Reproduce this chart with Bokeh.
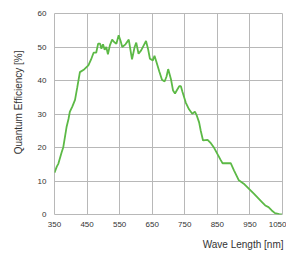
from bokeh.plotting import figure
from bokeh.models import Range1d, FixedTicker, Title, ColumnDataSource
from bokeh.embed import file_html
from bokeh.resources import INLINE

wavelength = [350, 357, 362, 372, 377, 387, 393, 397, 405, 413, 420, 428, 441, 454, 462,
              470, 478, 484, 490, 494, 499, 504, 509, 514, 520, 527, 533, 540, 547, 553,
              558, 568, 578, 588, 596, 601, 608, 616, 624, 631, 637, 643, 652, 657, 663,
              672, 680, 688, 694, 699, 708, 714, 720, 727, 733, 738, 743, 753, 763, 773,
              781, 787, 794, 799, 806, 820, 830, 840, 850, 860, 866, 891, 901, 916, 931,
              962, 987, 997, 1007, 1017, 1027, 1040, 1048]
efficiency = [12.5, 14.3, 15.2, 18.6, 20.1, 26.1, 28.5, 30.6, 32.3, 34.2, 38.0, 42.5, 43.3, 44.5, 46.2,
              48.3, 48.3, 51.0, 51.0, 49.5, 50.8, 49.2, 50.0, 47.8, 50.5, 52.2, 51.5, 51.0, 53.5, 51.8,
              50.0, 50.8, 52.2, 46.3, 50.0, 51.3, 48.0, 49.0, 50.5, 51.8, 49.5, 46.5, 46.0, 47.4, 45.5,
              42.6, 40.2, 39.7, 41.2, 43.4, 40.2, 37.0, 36.1, 37.3, 38.3, 38.3, 36.6, 33.4, 31.4, 30.1,
              30.7, 29.5, 27.5, 25.0, 22.1, 22.3, 21.3, 19.9, 18.1, 16.3, 15.3, 15.3, 13.2, 10.2, 9.2,
              6.2, 3.7, 2.7, 2.2, 1.2, 0.4, 0.1, 0.0]
x_ticks = [350, 450, 550, 650, 750, 850, 950, 1050]
y_ticks = [0, 10, 20, 30, 40, 50, 60]
x_title = "Wave Length [nm]"
y_title = "Quantum Efficiency [%]"

FONT = "Liberation Sans"
TXT = "#333333"
GRID = "#b8b8b8"

p = figure(width=286, height=256, output_backend="svg", toolbar_location=None,
           x_range=Range1d(350, 1050), y_range=Range1d(0, 60),
           min_border_left=53, min_border_right=4, min_border_top=13, min_border_bottom=42)
p.background_fill_color = "white"
p.border_fill_color = "white"
p.outline_line_color = GRID

p.xaxis.ticker = FixedTicker(ticks=x_ticks)
p.yaxis.ticker = FixedTicker(ticks=y_ticks)
for ax in (p.xaxis, p.yaxis):
    ax.axis_line_color = None
    ax.major_tick_line_color = None
    ax.minor_tick_line_color = None
    ax.major_tick_out = 0
    ax.major_tick_in = 0
    ax.major_label_text_font = FONT
    ax.major_label_text_font_size = "8px"
    ax.major_label_text_color = TXT
p.xaxis.major_label_standoff = 7
p.yaxis.major_label_standoff = 8

p.xgrid.grid_line_color = GRID
p.ygrid.grid_line_color = GRID
p.xgrid.grid_line_width = 1
p.ygrid.grid_line_width = 1

src = ColumnDataSource(dict(x=wavelength, y=efficiency))
p.line("x", "y", source=src, line_color="#5cb946", line_width=1.8)

p.add_layout(Title(text=x_title, align="right", offset=-1, text_font=FONT,
                   text_font_size="10px", text_font_style="normal", text_color=TXT,
                   standoff=14), "below")
p.add_layout(Title(text=y_title, align="right", offset=37, text_font=FONT,
                   text_font_size="10px", text_font_style="normal", text_color=TXT,
                   standoff=21), "left")

open("out.html", "w").write(file_html(p, INLINE))
